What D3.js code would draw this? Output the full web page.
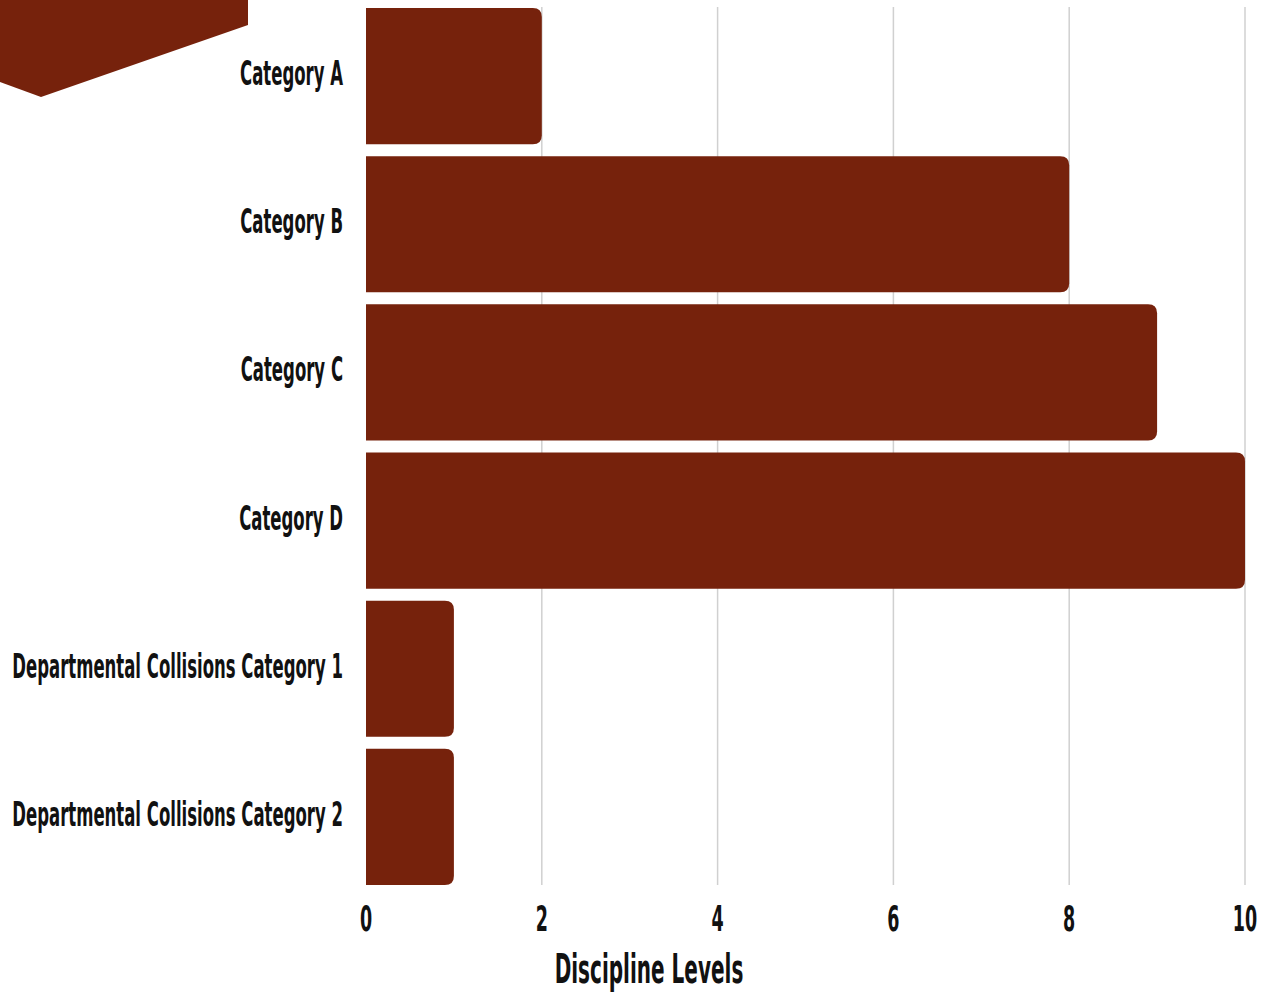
<!DOCTYPE html>
<html>
<head>
<meta charset="utf-8">
<script src="https://cdn.jsdelivr.net/npm/d3@7"></script>
<style>
  html, body { margin: 0; padding: 0; background: #fff; }
  svg text { font-family: "DejaVu Sans Condensed", "DejaVu Sans", sans-serif; font-weight: bold; fill: #111; }
</style>
</head>
<body>
<svg id="chart" width="1266" height="995"></svg>
<script>
// Discipline levels per category
const categories = ["Category A", "Category B", "Category C", "Category D",
  "Departmental Collisions Category 1", "Departmental Collisions Category 2"];
const values = [2, 8, 9, 10, 1, 1];
const xTicks = [0, 2, 4, 6, 8, 10];
const xTitle = "Discipline Levels";

const barColor = "#76220c";
const svg = d3.select("#chart");

const x = d3.scaleLinear().domain([0, 10]).range([366, 1245]);
const y = d3.scaleBand().domain(categories).range([2, 891])
  .paddingInner(0.081).paddingOuter(0.0405);

// decorative banner shape in the top-left corner
svg.append("path")
  .attr("d", "M0,0 L248,0 L248,25 L41,97 L0,82 Z")
  .attr("fill", barColor);

// vertical grid lines
svg.append("g").selectAll("line").data(xTicks.filter(d => d > 0)).join("line")
  .attr("x1", d => x(d)).attr("x2", d => x(d))
  .attr("y1", 7).attr("y2", 885)
  .attr("stroke", "#d0d0d0").attr("stroke-width", 1.5);

// bars: square on the left, rounded on the right
const r = 9;
function barPath(x0, x1, y0, h) {
  const rr = Math.min(r, (x1 - x0) / 2, h / 2);
  return `M${x0},${y0} H${x1 - rr} Q${x1},${y0} ${x1},${y0 + rr} V${y0 + h - rr} Q${x1},${y0 + h} ${x1 - rr},${y0 + h} H${x0} Z`;
}
svg.append("g").selectAll("path").data(categories).join("path")
  .attr("d", (d, i) => barPath(x(0), x(values[i]), y(d), y.bandwidth()))
  .attr("fill", barColor);

// condensed text helper: measure a reference string, then squeeze horizontally
const labelSize = 33;
const probe = svg.append("text").attr("font-size", labelSize).text("Category A");
const sx = 103 / probe.node().getComputedTextLength();
probe.remove();

function label(g, txt, px, py, size, anchor) {
  g.append("text")
    .attr("transform", `translate(${px},${py}) scale(${sx},1)`)
    .attr("font-size", size)
    .attr("text-anchor", anchor)
    .text(txt);
}

// category labels
const yAxis = svg.append("g");
categories.forEach(c => label(yAxis, c, 343, y(c) + y.bandwidth() / 2 + 9, labelSize, "end"));

// x tick labels
const xAxis = svg.append("g");
xTicks.forEach(t => label(xAxis, String(t), x(t), 931, 35, "middle"));

// x axis title
label(svg, xTitle, 649, 983, 40, "middle");
</script>
</body>
</html>
